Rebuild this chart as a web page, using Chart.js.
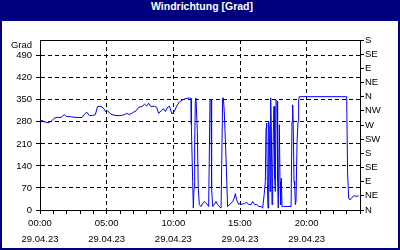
<!DOCTYPE html>
<html>
<head>
<meta charset="utf-8">
<script src="https://cdn.jsdelivr.net/npm/chart.js@4/dist/chart.umd.min.js"></script>
<style>
  html, body { margin: 0; padding: 0; background: #fff; }
  #wrap { position: relative; width: 400px; height: 250px; background: #000080; overflow: hidden; }
  #title { position: absolute; left: 0; top: 0; width: 400px; height: 21px; line-height: 20px;
           text-align: center; color: #fff; font: bold 10.5px "Liberation Sans", Arial, sans-serif; padding-left: 4px; box-sizing: border-box; }
  #box { position: absolute; left: 2px; top: 21px; width: 396px; height: 227px; background: #fff; }
</style>
</head>
<body>
<div id="wrap">
  <div id="title">Windrichtung [Grad]</div>
  <div id="box"><canvas id="c"></canvas></div>
</div>
<script>
// ---- data (time in hours of 29.04.23, wind direction in degrees) ----
const timeHours = [
  0.00,0.15,0.40,0.65,0.90,1.07,1.32,1.58,1.82,2.00,2.33,2.70,3.15,3.32,3.50,3.70,3.95,4.15,4.32,4.58,
  4.75,4.95,5.07,5.25,5.40,5.70,6.08,6.32,6.50,6.70,6.95,7.20,7.40,7.65,7.85,8.00,8.15,8.33,8.57,8.75,
  8.90,9.08,9.25,9.40,9.57,9.70,9.90,10.07,10.25,10.45,10.70,10.95,11.20,11.33,11.35,11.45,11.50,11.55,11.60,11.65,
  11.70,11.75,11.80,11.87,11.95,12.08,12.20,12.32,12.45,12.57,12.65,12.75,12.83,12.87,12.95,13.07,13.20,13.32,13.45,13.58,
  13.70,13.75,13.82,13.95,14.07,14.20,14.32,14.45,14.57,14.65,14.75,14.90,15.00,15.15,15.32,15.50,15.65,15.83,15.95,16.10,
  16.25,16.40,16.58,16.70,16.82,16.90,16.95,17.00,17.05,17.10,17.15,17.20,17.25,17.30,17.35,17.40,17.45,17.50,17.55,17.60,
  17.65,17.70,17.78,17.82,17.87,17.95,18.00,18.05,18.10,18.15,18.25,18.83,18.90,18.95,19.00,19.05,19.10,19.15,19.20,19.28,
  19.35,19.40,19.45,23.00,23.07,23.15,23.25,23.40,23.57,23.70,23.90
];
const windDir = [
  286,284,279,277,284,292,294,294,303,297,296,294,294,303,311,300,300,303,329,329,
  324,311,315,307,303,300,300,303,307,303,309,315,326,329,336,330,339,328,330,326,
  307,315,322,313,326,330,305,313,330,343,350,354,356,354,271,91,6,69,207,345,
  356,356,250,69,17,11,21,27,21,17,11,351,351,69,11,18,27,17,11,6,
  356,356,313,165,11,17,21,27,38,52,32,18,21,18,21,24,18,17,27,17,
  18,11,11,6,52,91,260,276,91,6,281,260,59,356,266,17,107,250,329,101,
  59,350,345,91,6,271,91,17,101,11,11,11,281,334,250,91,80,17,27,218,
  281,350,360,360,117,38,32,40,46,43,45
];
const gradTicks = [0,70,140,210,280,350,420,490];
const compassTicks = [0,45,90,135,180,225,270,315,360,405,450,495,540];
const compassLabels = ['N','NE','E','SE','S','SW','W','NW','N','NE','E','SE','S'];
const hourLabels = {0:'00:00',5:'05:00',10:'10:00',15:'15:00',20:'20:00'};
const dateLabel = '29.04.23';
const yUnit = 'Grad';

const points = timeHours.map((h, i) => ({x: h, y: windDir[i]}));
const tickFont = {family: '"Liberation Sans", Arial, sans-serif', size: 9.5, lineHeight: 16/9.5};
const DASH = [4, 3];

const framePlugin = {
  id: 'frame',
  afterDraw(chart) {
    const a = chart.chartArea, ctx = chart.ctx;
    ctx.save();
    ctx.strokeStyle = '#000'; ctx.lineWidth = 1;
    ctx.beginPath();
    ctx.moveTo(a.left + 0.5, a.top + 0.5);
    ctx.lineTo(a.right + 0.5, a.top + 0.5);
    ctx.stroke();
    ctx.fillStyle = '#000';
    ctx.font = '9.5px "Liberation Sans", Arial, sans-serif';
    ctx.textAlign = 'right'; ctx.textBaseline = 'middle';
    ctx.fillText(yUnit, a.left - 8, a.top + 5);
    ctx.restore();
  }
};

new Chart(document.getElementById('c'), {
  type: 'line',
  data: { datasets: [{ data: points, borderColor: '#0000ff', borderWidth: 1, pointRadius: 0, tension: 0, fill: false }] },
  options: {
    responsive: true, maintainAspectRatio: false, animation: false,
    layout: { padding: { top: 19, left: 0, right: 0, bottom: 0 } },
    plugins: { legend: { display: false }, tooltip: { enabled: false } },
    scales: {
      x: {
        type: 'linear', min: 0, max: 24,
        afterFit: s => { s.height = 38; },
        ticks: { stepSize: 1, autoSkip: false, maxRotation: 0, padding: 1, color: '#000', font: tickFont,
                 callback: v => (hourLabels[v] !== undefined ? [hourLabels[v], dateLabel] : '') },
        grid: { color: c => (c.tick && c.tick.value % 5 === 0 && c.tick.value > 0 && c.tick.value < 24) ? '#000' : 'rgba(0,0,0,0)',
                tickColor: '#000', tickLength: 4, tickBorderDash: [] },
        border: { display: true, color: '#000', width: 1, dash: DASH }
      },
      y: {
        type: 'linear', position: 'left', min: 0, max: 540,
        afterFit: s => { s.width = 38; },
        afterBuildTicks: s => { s.ticks = gradTicks.map(v => ({value: v})); },
        ticks: { autoSkip: false, padding: 4, color: '#000', font: tickFont, callback: v => String(v) },
        grid: { color: c => (c.tick && c.tick.value > 0) ? '#000' : 'rgba(0,0,0,0)',
                tickColor: '#000', tickLength: 4, tickBorderDash: [] },
        border: { display: true, color: '#000', width: 1, dash: DASH }
      },
      y2: {
        type: 'linear', position: 'right', min: 0, max: 540,
        afterFit: s => { s.width = 38; },
        afterBuildTicks: s => { s.ticks = compassTicks.map(v => ({value: v})); },
        ticks: { autoSkip: false, padding: 1, color: '#000', font: tickFont,
                 callback: v => compassLabels[compassTicks.indexOf(v)] },
        grid: { drawOnChartArea: false, tickColor: '#000', tickLength: 4, tickBorderDash: [] },
        border: { display: true, color: '#000', width: 1 }
      }
    }
  },
  plugins: [framePlugin]
});
</script>
</body>
</html>
